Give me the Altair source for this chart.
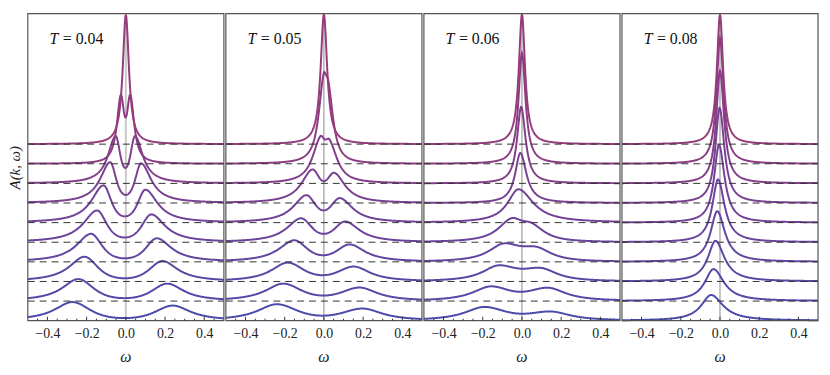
import altair as alt
import numpy as np
import pandas as pd

# ---------------- data ----------------
TEMPS = ["0.04", "0.05", "0.06", "0.08"]
OFFSETS = [0, 1, 2, 3, 4, 5, 6, 7, 8, 9]          # vertical offset of each curve
COLORS = ["#4b4bab", "#5249a8", "#5a47a4", "#6245a0", "#6a439c",
          "#724297", "#7a4091", "#833e8a", "#8c3c83", "#963b7c"]
MAJOR_TICKS = [-0.4, -0.2, 0.0, 0.2, 0.4]
MINOR_TICKS = [-0.45, -0.35, -0.3, -0.25, -0.15, -0.1, -0.05,
               0.05, 0.1, 0.15, 0.25, 0.3, 0.35, 0.45]

# T = 0.04 : two peaks per curve (position, height), outer / inner half-widths
T04_LPOS = [-0.273, -0.243, -0.211, -0.178, -0.147, -0.114, -0.080, -0.052, -0.026, 0.0]
T04_LH = [0.95, 1.12, 1.26, 1.43, 1.62, 1.90, 2.08, 2.42, 3.52, 6.60]
T04_RPOS = [0.240, 0.212, 0.187, 0.158, 0.130, 0.100, 0.078, 0.047, 0.023, 0.0]
T04_RH = [0.77, 0.89, 1.04, 1.20, 1.42, 1.68, 2.02, 2.42, 3.52, 0.0]
T04_WOUT = [0.110, 0.100, 0.095, 0.090, 0.085, 0.075, 0.062, 0.048, 0.024, 0.019]
T04_WIN = [0.160, 0.140, 0.120, 0.100, 0.087, 0.070, 0.054, 0.041, 0.030, 0.019]

# T = 0.05
T05_LPOS = [-0.241, -0.209, -0.186, -0.152, -0.117, -0.090, -0.060, -0.020, -0.003, 0.0]
T05_LH = [0.84, 0.89, 0.96, 1.10, 1.22, 1.40, 1.71, 2.38, 4.53, 6.62]
T05_RPOS = [0.199, 0.183, 0.154, 0.132, 0.109, 0.082, 0.054, 0.030, 0.025, 0.0]
T05_RH = [0.62, 0.69, 0.76, 0.89, 1.06, 1.25, 1.54, 2.22, 4.10, 0.0]
T05_WOUT = [0.120, 0.110, 0.100, 0.095, 0.088, 0.080, 0.068, 0.050, 0.032, 0.020]
T05_WIN = [0.190, 0.170, 0.150, 0.120, 0.100, 0.085, 0.071, 0.045, 0.030, 0.020]

# T = 0.06
T06_LPOS = [-0.194, -0.161, -0.122, -0.094, -0.055, -0.018, -0.008, -0.004, 0.0, 0.0]
T06_LH = [0.70, 0.75, 0.82, 0.94, 1.22, 1.70, 2.55, 3.90, 5.65, 6.62]
T06_RPOS = [0.149, 0.135, 0.099, 0.074, 0.049, 0.0, 0.0, 0.0, 0.0, 0.0]
T06_RH = [0.47, 0.68, 0.69, 0.77, 0.99, 0.0, 0.0, 0.0, 0.0, 0.0]
T06_WOUT = [0.120, 0.110, 0.100, 0.095, 0.085, 0.067, 0.032, 0.025, 0.021, 0.019]
T06_WIN = [0.200, 0.180, 0.170, 0.145, 0.100, 0.092, 0.037, 0.027, 0.022, 0.019]

# T = 0.08 : single peaks
T08_LPOS = [-0.045, -0.033, -0.023, -0.014, -0.010, -0.005, -0.002, 0.0, 0.0, 0.0]
T08_LH = [1.31, 1.63, 2.07, 2.58, 3.20, 3.96, 4.85, 5.73, 6.41, 6.61]
T08_RPOS = [0.0, 0.0, 0.0, 0.0, 0.0, 0.0, 0.0, 0.0, 0.0, 0.0]
T08_RH = [0.0, 0.0, 0.0, 0.0, 0.0, 0.0, 0.0, 0.0, 0.0, 0.0]
T08_WOUT = [0.062, 0.054, 0.047, 0.041, 0.035, 0.030, 0.026, 0.023, 0.021, 0.019]
T08_WIN = [0.074, 0.064, 0.055, 0.047, 0.040, 0.034, 0.029, 0.025, 0.022, 0.019]

PANELS = [
    (TEMPS[0], T04_LPOS, T04_LH, T04_RPOS, T04_RH, T04_WOUT, T04_WIN),
    (TEMPS[1], T05_LPOS, T05_LH, T05_RPOS, T05_RH, T05_WOUT, T05_WIN),
    (TEMPS[2], T06_LPOS, T06_LH, T06_RPOS, T06_RH, T06_WOUT, T06_WIN),
    (TEMPS[3], T08_LPOS, T08_LH, T08_RPOS, T08_RH, T08_WOUT, T08_WIN),
]

# ---------------- curve construction ----------------
P_OUT, P_IN = 1.0, 2.0
GRID = np.linspace(-0.5, 0.5, 401)


def side(d, w, p):
    return (1.0 + (d / w) ** 2) ** (-p)


def peak_left(d, wo, wi, single):
    pin = P_OUT if single else P_IN
    return np.where(d < 0, side(d, wo, P_OUT), side(d, wi, pin))


def peak_right(d, wo, wi):
    return np.where(d > 0, side(d, wo, P_OUT), side(d, wi, P_IN))


def build_curve(lp, lh, rp, rh, wo, wi):
    if rh == 0:
        return lh * peak_left(GRID - lp, wo, wi, True)
    m = np.array([[1.0, float(peak_right(np.array(lp - rp), wo, wi))],
                  [float(peak_left(np.array(rp - lp), wo, wi, False)), 1.0]])
    a = np.linalg.solve(m, np.array([lh, rh]))
    a = np.clip(a, 0, None)
    return a[0] * peak_left(GRID - lp, wo, wi, False) + a[1] * peak_right(GRID - rp, wo, wi)


# ---------------- layout: 4 panels side by side on one shared x scale ----------------
PANEL_PX = 199.0
S = 1.0 + 2.0 / PANEL_PX          # panel pitch in ω units (2 px gap)
YMAX = 15.65
NP = len(PANELS)
SERIF = "Liberation Serif"

curve_rows, frame_rows, dash_rows, tick_rows, zero_rows = [], [], [], [], []
t_rows, v_rows, om_rows = [], [], []
for p, (temp, lpos, lh, rpos, rh, wout, win) in enumerate(PANELS):
    c = p * S
    for k in range(len(OFFSETS)):
        yv = OFFSETS[k] + build_curve(lpos[k], lh[k], rpos[k], rh[k], wout[k], win[k])
        for w_, y_ in zip(GRID, yv):
            curve_rows.append({"x": round(c + float(w_), 5), "y": round(float(y_), 4),
                               "k": k, "s": f"{p}-{k}"})
    frame_rows.append({"x": c - 0.5, "x2": c + 0.5, "y": 0.0, "y2": YMAX})
    zero_rows.append({"x": c, "y": 0.0, "y2": YMAX, "p": p})
    for off in OFFSETS[1:]:
        dash_rows.append({"x": c - 0.5, "x2": c + 0.5, "y": float(off)})
    for t in MAJOR_TICKS:
        tick_rows.append({"x": c + t, "y": 0.0, "y2": 0.2})
    for t in MINOR_TICKS:
        tick_rows.append({"x": c + t, "y": 0.0, "y2": 0.1})
    t_rows.append({"x": c - 0.5 + 22 / PANEL_PX, "y": YMAX, "s": "T"})
    v_rows.append({"x": c - 0.5 + 35.5 / PANEL_PX, "y": YMAX, "s": "= " + temp})
    om_rows.append({"x": c, "y": 0.0, "s": "ω"})

XS = alt.Scale(domain=[-0.5, (NP - 1) * S + 0.5], nice=False, zero=False)
YS = alt.Scale(domain=[0, YMAX], nice=False, zero=False)
X_AXIS = alt.Axis(title=None, values=[p * S + v for p in range(NP) for v in MAJOR_TICKS],
                  labelExpr=f"format(datum.value - floor((datum.value + 0.5) / {S}) * {S}, '.1f')",
                  ticks=False, domain=False, grid=False, labelFlush=False, labelOverlap=False,
                  labelFont=SERIF, labelFontSize=14, labelColor="#222", labelPadding=6)
Y_AXIS = alt.Axis(title="A(k, ω)", labels=False, ticks=False, domain=False, grid=False,
                  titleFont=SERIF, titleFontSize=15, titleFontStyle="italic",
                  titleFontWeight="normal", titleColor="#222", titlePadding=5)


def X(f="x"):
    return alt.X(f, type="quantitative", scale=XS, axis=X_AXIS)


def Y(f="y"):
    return alt.Y(f, type="quantitative", scale=YS, axis=Y_AXIS)


zero_df = pd.DataFrame(zero_rows)
zero_first = alt.Chart(zero_df[zero_df.p == 0]).mark_rule(color="#c9c9c9", strokeWidth=2).encode(
    x=X(), y=Y(), y2="y2")
zero_rest = alt.Chart(zero_df[zero_df.p > 0]).mark_rule(color="#8a8a8a", strokeWidth=1).encode(
    x=X(), y=Y(), y2="y2")

lines = alt.Chart(pd.DataFrame(curve_rows)).mark_line(strokeWidth=2).encode(
    x=X(), y=Y(), detail="s:N",
    color=alt.Color("k:O", scale=alt.Scale(domain=OFFSETS, range=COLORS), legend=None))

dashes = alt.Chart(pd.DataFrame(dash_rows)).mark_rule(
    color="#333", strokeWidth=1, strokeDash=[7, 5]).encode(x=X(), x2="x2", y=Y())

frames = alt.Chart(pd.DataFrame(frame_rows)).mark_rect(
    fillOpacity=0, stroke="#555", strokeWidth=1.2).encode(x=X(), x2="x2", y=Y(), y2="y2")

ticks = alt.Chart(pd.DataFrame(tick_rows)).mark_rule(color="#333", strokeWidth=1).encode(
    x=X(), y=Y(), y2="y2")

t_text = alt.Chart(pd.DataFrame(t_rows)).mark_text(
    font=SERIF, fontSize=16, fontStyle="italic", align="left", baseline="alphabetic",
    color="#111", dy=31).encode(x=X(), y=Y(), text="s:N")
v_text = alt.Chart(pd.DataFrame(v_rows)).mark_text(
    font=SERIF, fontSize=16, align="left", baseline="alphabetic", color="#111", dy=31
).encode(x=X(), y=Y(), text="s:N")
om_text = alt.Chart(pd.DataFrame(om_rows)).mark_text(
    font=SERIF, fontSize=16, fontStyle="italic", align="center", baseline="alphabetic",
    color="#222", dy=42).encode(x=X(), y=Y(), text="s:N")

chart = alt.layer(zero_first, zero_rest, lines, dashes, frames, ticks, t_text, v_text, om_text).properties(
    width=822, height=359,
    autosize=alt.AutoSizeParams(type="fit", contains="padding"),
    padding={"left": 0, "top": 0, "right": 0, "bottom": 0},
    background="white",
).configure_view(stroke="transparent")

chart.save("out.html", embed_options={"renderer": "svg", "actions": False})
